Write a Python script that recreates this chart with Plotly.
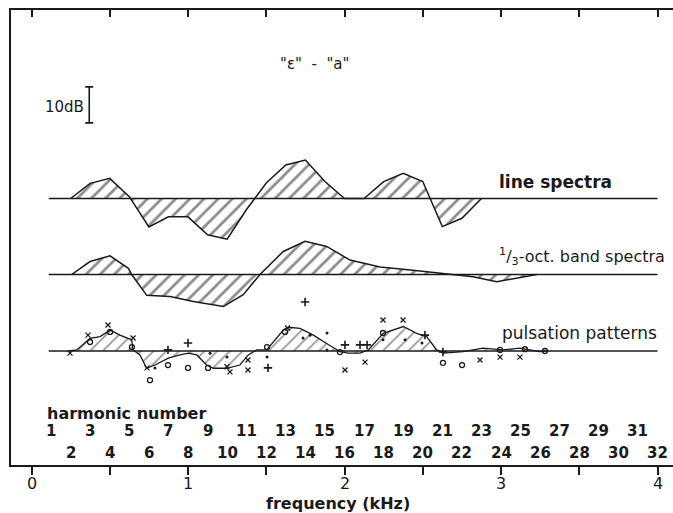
import plotly.graph_objects as go

# ---------------- data ----------------
F0 = 0.125  # kHz, fundamental
harmonics = list(range(1, 33))

# line spectra difference (dB) at harmonics 2..23
line_h = list(range(2, 24))
line_db = [0, 4.2, 5.6, 0.5, -7.9, -5.1, -5.1, -10.1, -11.3, -3.0, 4.3,
           9.3, 10.7, 4.7, 0, 0, 4.7, 7.0, 4.7, -7.8, -5.5, 0]

# 1/3-octave band spectra difference (kHz, dB)
oct_f = [0.257, 0.374, 0.502, 0.619, 0.640, 0.736, 0.885, 1.034, 1.226, 1.353,
         1.460, 1.609, 1.748, 1.886, 2.035, 2.227, 2.438, 2.653, 2.821, 2.973,
         3.100, 3.228]
oct_db = [0, 3.6, 5.2, 1.7, 0, -5.8, -6.1, -7.5, -8.9, -5.6,
          0, 6.4, 9.2, 7.8, 4.0, 2.1, 1.2, 0.3, -0.6, -2.0,
          -1.1, 0]

# pulsation patterns mean curve (kHz, dB)
puls_f = [0.240, 0.289, 0.374, 0.438, 0.502, 0.565, 0.640, 0.649, 0.693, 0.736,
          0.789, 0.874, 0.949, 1.002, 1.056, 1.119, 1.162, 1.247, 1.332, 1.385,
          1.439, 1.503, 1.609, 1.641, 1.716, 1.801, 1.886, 1.971, 2.024, 2.099,
          2.152, 2.248, 2.376, 2.461, 2.525, 2.589, 2.631, 2.757, 2.885, 3.013,
          3.121, 3.249, 3.292]
puls_db = [0, 0.3, 3.5, 4.0, 5.8, 4.4, 3.1, 0.3, -1.1, -4.8,
           -3.9, -2.0, -1.1, -0.6, -1.1, -3.9, -4.8, -4.8, -3.9, -1.1,
           0.3, 0.3, 5.8, 6.6, 6.3, 4.4, 2.1, -0.2, -0.6, -0.6,
           0.3, 4.9, 6.8, 4.9, 4.0, 0.3, -0.6, -0.2, 0.8, 0.3,
           0.8, -0.2, 0]

# individual measurements (kHz, dB)
cross_f = [0.246, 0.361, 0.489, 0.649, 0.738, 1.249, 1.268, 1.383, 1.383, 1.636,
           2.003, 2.131, 2.246, 2.374, 2.866, 2.994, 3.121]
cross_db = [-0.6, 4.4, 7.2, 3.6, -4.7, -4.4, -5.8, -2.5, -5.3, 6.4,
            -5.3, -3.1, 8.6, 8.6, -2.5, -1.7, -1.7]
circ_f = [0.374, 0.502, 0.642, 0.757, 0.872, 1.000, 1.128, 1.505, 1.620, 1.971,
          2.246, 2.629, 2.751, 2.994, 3.153, 3.281]
circ_db = [2.5, 5.3, 1.1, -8.1, -3.9, -4.7, -4.7, 1.1, 5.3, -0.3,
           5.0, -3.3, -3.9, 0.3, 0.5, 0]
plus_f = [0.872, 1.000, 1.511, 2.003, 2.099, 2.144, 2.514, 2.629, 1.748]
plus_db = [0.3, 2.2, -4.7, 1.7, 1.7, 1.7, 4.4, -0.3, 13.6]
dot_f = [0.789, 1.141, 1.249, 1.505, 1.735, 1.780, 1.888, 1.888, 2.246, 2.387, 2.495]
dot_db = [-4.7, -0.6, -1.7, -1.7, 3.6, 4.4, 5.0, 0.3, 3.1, 3.1, 2.2]

freq_ticks = [0, 1, 2, 3, 4]
base_f = [0.11, 4.0]
base_db = [0, 0]

# ---------------- figure ----------------
INK = "#1a1a1a"
FONT = "DejaVu Sans"
hatch = dict(shape="/", size=10, solidity=0.28, fgcolor=INK, bgcolor="rgba(0,0,0,0)")

fig = go.Figure()

def hatched(x, y, yax, width=1.5, pat=hatch):
    fig.add_trace(go.Scatter(x=x, y=y, yaxis=yax, mode="lines", fill="tozeroy",
                             fillcolor="rgba(0,0,0,0)", fillpattern=pat,
                             line=dict(color=INK, width=width), hoverinfo="skip",
                             showlegend=False))
    fig.add_trace(go.Scatter(x=base_f, y=base_db, yaxis=yax, mode="lines",
                             line=dict(color=INK, width=1.5), hoverinfo="skip",
                             showlegend=False))

hatched([h * F0 for h in line_h], line_db, "y")
hatched(oct_f, oct_db, "y2")
hatched(puls_f, puls_db, "y3", width=1.3,
        pat=dict(shape="/", size=9, solidity=0.2, fgcolor="#333", bgcolor="rgba(0,0,0,0)"))

mk = dict(color=INK, size=5, line=dict(color=INK, width=1.3))
fig.add_trace(go.Scatter(x=cross_f, y=cross_db, yaxis="y3", mode="markers", showlegend=False,
                         marker=dict(symbol="x-thin-open", **mk)))
fig.add_trace(go.Scatter(x=circ_f, y=circ_db, yaxis="y3", mode="markers", showlegend=False,
                         marker=dict(symbol="circle-open", **mk)))
fig.add_trace(go.Scatter(x=plus_f, y=plus_db, yaxis="y3", mode="markers", showlegend=False,
                         marker=dict(symbol="cross-thin-open", color=INK, size=6,
                                     line=dict(color=INK, width=1.6))))
fig.add_trace(go.Scatter(x=dot_f, y=dot_db, yaxis="y3", mode="markers", showlegend=False,
                         marker=dict(symbol="circle", color=INK, size=3)))

# 10 dB scale bar
fig.add_trace(go.Scatter(x=[0.369], y=[26], yaxis="y", mode="markers", showlegend=False,
                         marker=dict(size=1, color="rgba(0,0,0,0)"),
                         error_y=dict(type="data", array=[5], visible=True, width=4,
                                      thickness=1.6, color=INK)))

# dummy trace for top axis
fig.add_trace(go.Scatter(x=[0, 4], y=[0, 0], xaxis="x2", yaxis="y", mode="markers",
                         marker=dict(size=0.1, color="rgba(0,0,0,0)"), showlegend=False,
                         hoverinfo="skip"))

annotations = []
for h in harmonics:
    annotations.append(dict(x=h * F0, y=0.074 if h % 2 else 0.027, xref="x", yref="paper",
                            text="<b>%d</b>" % h, showarrow=False,
                            font=dict(family=FONT, size=15, color=INK),
                            xanchor="center", yanchor="middle"))
for v in freq_ticks:
    annotations.append(dict(x=v, y=-0.040, xref="x", yref="paper", text=str(v),
                            showarrow=False, xanchor="center", yanchor="middle",
                            font=dict(family=FONT, size=16, color=INK)))
annotations += [
    dict(x=0.086, y=0.114, xref="x", yref="paper", text="<b>harmonic number</b>",
         showarrow=False, xanchor="left", yanchor="middle",
         font=dict(family=FONT, size=16, color=INK)),
    dict(x=1.96, y=-0.084, xref="x", yref="paper", text="<b>frequency (kHz)</b>",
         showarrow=False, xanchor="center", yanchor="middle",
         font=dict(family=FONT, size=16, color=INK)),
    dict(x=2.975, y=4.6, xref="x", yref="y", text="<b>line spectra</b>",
         showarrow=False, xanchor="left", yanchor="middle",
         font=dict(family=FONT, size=17, color=INK)),
    dict(x=2.975, y=4.9, xref="x", yref="y2",
         text="<sup>1</sup>/<sub>3</sub>-oct. band spectra",
         showarrow=False, xanchor="left", yanchor="middle",
         font=dict(family=FONT, size=16, color=INK)),
    dict(x=2.995, y=5.0, xref="x", yref="y3", text="pulsation patterns",
         showarrow=False, xanchor="left", yanchor="middle",
         font=dict(family=FONT, size=17, color=INK)),
    dict(x=0.350, y=25.5, xref="x", yref="y", text="10dB",
         showarrow=False, xanchor="right", yanchor="middle",
         font=dict(family=FONT, size=15, color=INK)),
    dict(x=1.81, y=37.4, xref="x", yref="y", text="\"ε\"  -  \"a\"",
         showarrow=False, xanchor="center", yanchor="middle",
         font=dict(family=FONT, size=15, color=INK)),
]

xr = [-0.131, 4.099]
fig.update_layout(
    width=673, height=513,
    margin=dict(l=11, r=0, t=10, b=48),
    paper_bgcolor="white", plot_bgcolor="white",
    showlegend=False,
    annotations=annotations,
    xaxis=dict(range=xr, showgrid=False, zeroline=False, showline=True,
               linecolor=INK, linewidth=2, ticks="outside", ticklen=8, tickwidth=1.6,
               tickcolor=INK, tickvals=freq_ticks, showticklabels=False,
               minor=dict(dtick=0.5, tick0=0, ticks="outside", ticklen=8,
                          tickwidth=1.6, tickcolor=INK, showgrid=False)),
    xaxis2=dict(range=xr, overlaying="x", side="top", showgrid=False, zeroline=False,
                showline=True, linecolor=INK, linewidth=2, ticks="inside", ticklen=7,
                tickwidth=1.6, tickcolor=INK, dtick=0.5, tick0=0, showticklabels=False),
    yaxis=dict(range=[-74.03, 52.36], showgrid=False, zeroline=False, showline=True,
               linecolor=INK, linewidth=2, showticklabels=False, ticks=""),
    yaxis2=dict(range=[-52.92, 73.47], overlaying="y", showgrid=False, zeroline=False,
                visible=False),
    yaxis3=dict(range=[-31.67, 94.72], overlaying="y", showgrid=False, zeroline=False,
                visible=False),
)

fig.write_html("out.html")
